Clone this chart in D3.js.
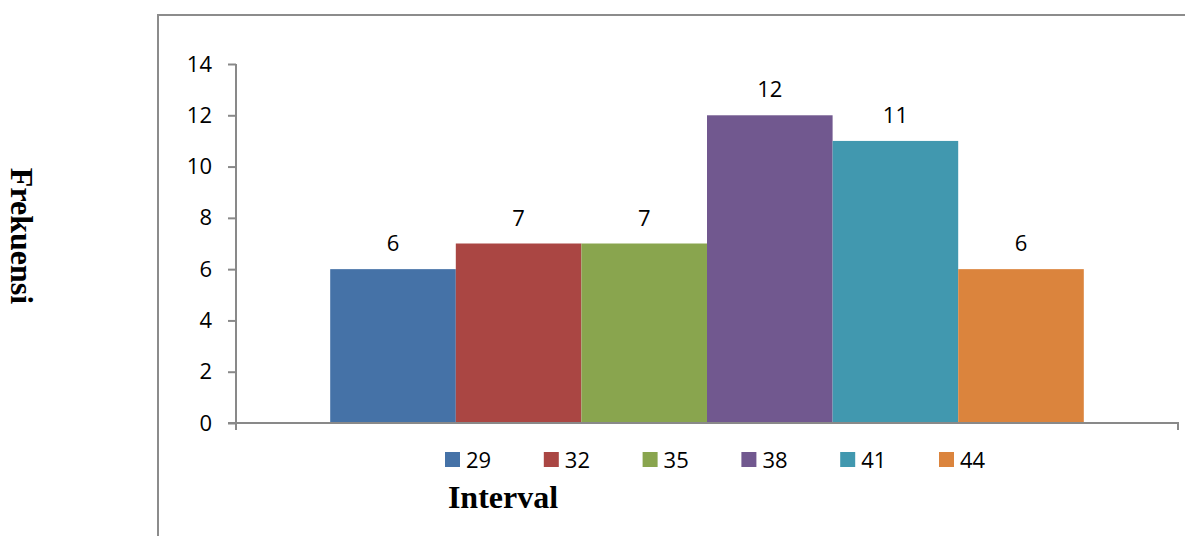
<!DOCTYPE html>
<html>
<head>
<meta charset="utf-8">
<script src="https://cdn.jsdelivr.net/npm/d3@7"></script>
<style>
  html, body { margin: 0; padding: 0; background: #fff; }
  svg { display: block; }
</style>
</head>
<body>
<svg id="chart" width="1185" height="536"></svg>
<script>
// Frequency per class interval
const intervals = ["29", "32", "35", "38", "41", "44"];
const frekuensi = [6, 7, 7, 12, 11, 6];
const yTicks = [0, 2, 4, 6, 8, 10, 12, 14];
const colors = ["#4572A7", "#AA4643", "#89A54E", "#71588F", "#4198AF", "#DB843D"];

const svg = d3.select("#chart");
const axisColor = "#898989";
const numFont = "'Open Sans', 'Liberation Sans', sans-serif";
const titleFont = "'Liberation Serif', 'Times New Roman', serif";

// Chart area frame (left and top edges)
svg.append("path")
  .attr("d", "M158,536 V15 H1185")
  .attr("fill", "none")
  .attr("stroke", "#8c8c8c")
  .attr("stroke-width", 2);

const plot = { left: 236, right: 1178, top: 64, bottom: 423 };

const y = d3.scaleLinear().domain([0, 14]).range([plot.bottom, plot.top]);
const x = d3.scaleBand()
  .domain(intervals)
  .range([plot.left, plot.right])
  .paddingInner(0)
  .paddingOuter(0.75);

// Bars
svg.append("g").selectAll("rect")
  .data(intervals.map((k, i) => ({ k, v: frekuensi[i], c: colors[i] })))
  .join("rect")
  .attr("x", d => x(d.k))
  .attr("y", d => y(d.v))
  .attr("width", x.bandwidth())
  .attr("height", d => y(0) - y(d.v))
  .attr("fill", d => d.c);

// Value labels
svg.append("g").selectAll("text")
  .data(intervals.map((k, i) => ({ k, v: frekuensi[i] })))
  .join("text")
  .attr("x", d => x(d.k) + x.bandwidth() / 2)
  .attr("y", d => y(d.v) - 18)
  .attr("text-anchor", "middle")
  .attr("font-family", numFont)
  .attr("font-size", 22)
  .attr("fill", "#000")
  .text(d => d.v);

// Y axis
const yAxis = svg.append("g")
  .attr("transform", `translate(${plot.left},0)`)
  .call(d3.axisLeft(y).tickValues(yTicks).tickSize(8).tickSizeOuter(0).tickPadding(16));
yAxis.select(".domain").attr("stroke", axisColor).attr("stroke-width", 2)
  .attr("d", `M0,${plot.top}V${plot.bottom + 7}`);
yAxis.selectAll(".tick line").attr("stroke", axisColor).attr("stroke-width", 2);
yAxis.selectAll(".tick text")
  .attr("font-family", numFont)
  .attr("font-size", 22)
  .attr("fill", "#000");

// X axis baseline with end tick
svg.append("path")
  .attr("d", `M${plot.left - 8},${plot.bottom}H${plot.right}V${plot.bottom + 7}`)
  .attr("fill", "none")
  .attr("stroke", axisColor)
  .attr("stroke-width", 2);

// Legend
const legend = svg.append("g");
const legStart = 445, legStep = 98.8, legY = 452;
intervals.forEach((k, i) => {
  const g = legend.append("g").attr("transform", `translate(${legStart + i * legStep},${legY})`);
  g.append("rect").attr("width", 15).attr("height", 15).attr("fill", colors[i]);
  g.append("text")
    .attr("x", 21).attr("y", 16)
    .attr("font-family", numFont)
    .attr("font-size", 22)
    .attr("fill", "#000")
    .text(k);
});

// Axis titles
svg.append("text")
  .attr("x", 503).attr("y", 508)
  .attr("text-anchor", "middle")
  .attr("font-family", titleFont)
  .attr("font-weight", "bold")
  .attr("font-size", 32)
  .attr("fill", "#000")
  .text("Interval");

svg.append("text")
  .attr("transform", "translate(11,236) rotate(90)")
  .attr("text-anchor", "middle")
  .attr("font-family", titleFont)
  .attr("font-weight", "bold")
  .attr("font-size", 32)
  .attr("fill", "#000")
  .text("Frekuensi");
</script>
</body>
</html>
